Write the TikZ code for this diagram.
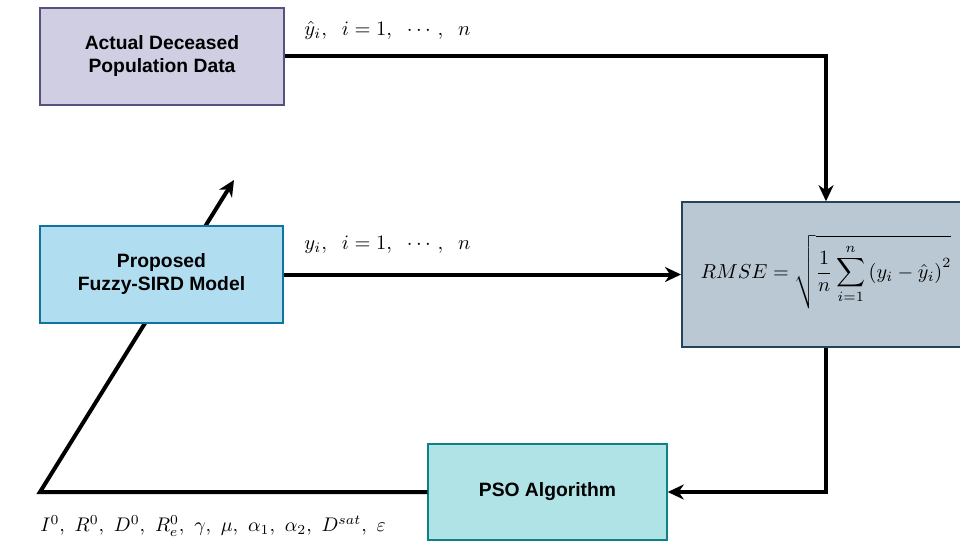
\documentclass[tikz,border=0pt]{standalone}
\usepackage{amsmath}
\usepackage{fontspec}
\setsansfont{Liberation Sans}
\usetikzlibrary{arrows.meta}
\definecolor{actfill}{HTML}{D0CEE2}\definecolor{actdraw}{HTML}{56517E}
\definecolor{propfill}{HTML}{B1DDF0}\definecolor{propdraw}{HTML}{10739E}
\definecolor{rmsefill}{HTML}{BAC8D3}\definecolor{rmsedraw}{HTML}{23445D}
\definecolor{psofill}{HTML}{B0E3E6}\definecolor{psodraw}{HTML}{0E8088}
\begin{document}
\begin{tikzpicture}[x=1pt,y=-1pt,
  box/.style={draw, line width=1.5pt, minimum width=#1, inner sep=0pt, font=\sffamily\bfseries\fontsize{19.3}{23}\selectfont, align=center},
  flow/.style={line width=4pt, -{Stealth[length=16pt,width=15pt,inset=5pt]}},
  plain/.style={line width=4pt},
  mlab/.style={anchor=west, inner sep=0pt, scale=#1, transform shape}]
\useasboundingbox (0,0) rectangle (960,545);
\coordinate (corner1) at (826,56);
\coordinate (corner2) at (826,492);
\coordinate (lowleft) at (40,492);
\coordinate (tip) at (234,180);
\node[box=244pt, minimum height=97pt, fill=actfill, draw=actdraw] (act) at (162,56.5) {Actual Deceased\\Population Data};
\node[box=243pt, minimum height=97pt, fill=propfill, draw=propdraw] (prop) at (161.5,274.5) {Proposed\\Fuzzy-SIRD Model};
\node[box=282pt, minimum height=145pt, fill=rmsefill, draw=rmsedraw, anchor=west] (rmse) at (681,274.5) {};
\node[box=239pt, minimum height=96pt, fill=psofill, draw=psodraw] (pso) at (547.5,492) {PSO Algorithm};
\draw[flow] (act.east |- corner1) -- (corner1) -- (corner1 |- rmse.north);
\draw[flow] (prop.east) -- (rmse.west);
\draw[flow] (rmse.south -| corner2) -- (corner2) -- (pso.east);
\draw[flow] (pso.west) -- (lowleft) -- (tip);
\node[box=243pt, minimum height=97pt, fill=propfill, draw=propdraw] (prop2) at (prop) {Proposed\\Fuzzy-SIRD Model};
\draw[plain] (prop2.east) -- ++(6,0);
\node[inner sep=0pt, scale=2.02, transform shape] (formula) at (826,272) {$\displaystyle RMSE=\sqrt{\frac{1}{n}\sum_{i=1}^{n}\left(y_i-\hat{y}_i\right)^2}$};
\node[mlab=2.05] (lab1) at (304,30) {$\hat{y}_i,\;\;i=1,\;\;\cdots,\;\;n$};
\node[mlab=2.05] (lab2) at (304,245) {$y_i,\;\;i=1,\;\;\cdots,\;\;n$};
\node[mlab=1.97] (lab3) at (40,526) {$I^0,\ R^0,\ D^0,\ R_e^0,\ \gamma,\ \mu,\ \alpha_1,\ \alpha_2,\ D^{sat},\ \varepsilon$};
\end{tikzpicture}
\end{document}
